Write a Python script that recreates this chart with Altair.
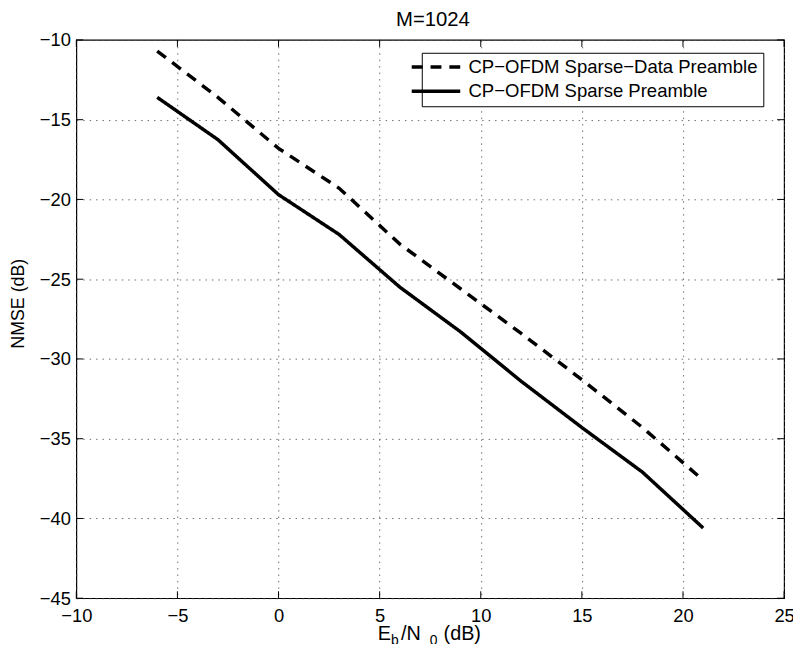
import altair as alt
import pandas as pd

# ---- data ----
ebn0 = [-6, -3, 0, 3, 6, 9, 12, 15, 18, 21]
nmse_sparse_data = [-10.7, -13.6, -16.8, -19.3, -22.8, -25.6, -28.4, -31.3, -34.3, -37.6]
nmse_sparse = [-13.6, -16.25, -19.7, -22.2, -25.5, -28.3, -31.4, -34.3, -37.1, -40.6]
series_names = ["CP\u2212OFDM Sparse\u2212Data Preamble", "CP\u2212OFDM Sparse Preamble"]
x_ticks = [-10, -5, 0, 5, 10, 15, 20, 25]
y_ticks = [-45, -40, -35, -30, -25, -20, -15, -10]
title_text = "M=1024"
ylabel_text = "NMSE (dB)"

rows = []
for name, vals in zip(series_names, [nmse_sparse_data, nmse_sparse]):
    for xv, yv in zip(ebn0, vals):
        rows.append({"ebn0": xv, "nmse": yv, "series": name})
df = pd.DataFrame(rows)

W, H = 715, 564
FONT = "Liberation Sans"
TICK_FS = 18.5

xscale = alt.Scale(domain=[-10, 25], nice=False, zero=False)
yscale = alt.Scale(domain=[-45, -10], nice=False, zero=False)

grid_style = dict(grid=True, gridColor="#555555", gridDash=[1.5, 5], gridWidth=1, gridOpacity=0.85)

xaxis = alt.Axis(values=x_ticks, title=None, domain=False, ticks=False, tickSize=0,
                 labelPadding=8.4, labelFontSize=TICK_FS, labelFont=FONT, labelColor="black",
                 labelFlush=False, labelOverlap=False, format="d", **grid_style)
yaxis = alt.Axis(values=y_ticks, title=None, domain=False, ticks=False, tickSize=0,
                 labelPadding=6, labelFontSize=TICK_FS, labelFont=FONT, labelColor="black",
                 labelFlush=False, labelOverlap=False, format="d", **grid_style)

legend = alt.Legend(
    orient="none", legendX=349, legendY=13, title=None,
    symbolType="M-4.9,0H4.9", symbolSize=100, symbolStrokeWidth=3.5,
    symbolStrokeColor="black", symbolFillColor="transparent",
    labelFontSize=18.7, labelFont=FONT, labelColor="black", labelOffset=23.5, labelLimit=0,
    padding=5, rowPadding=4.6, strokeColor="black", fillColor="white",
)

lines = alt.Chart(df).mark_line(color="black", strokeWidth=3.5, strokeCap="butt").encode(
    x=alt.X("ebn0:Q", scale=xscale, axis=xaxis),
    y=alt.Y("nmse:Q", scale=yscale, axis=yaxis),
    strokeDash=alt.StrokeDash("series:N",
                              scale=alt.Scale(domain=series_names, range=[[11, 8], [1, 0]]),
                              legend=legend),
)

xt = pd.DataFrame({"v": x_ticks})
yt = pd.DataFrame({"v": y_ticks})
TL = 7
tick_style = dict(color="black", strokeWidth=1)
tick_b = alt.Chart(xt).mark_rule(**tick_style).encode(
    x=alt.X("v:Q", scale=xscale, axis=xaxis), y=alt.value(H), y2=alt.value(H - TL))
tick_t = alt.Chart(xt).mark_rule(**tick_style).encode(
    x=alt.X("v:Q", scale=xscale, axis=xaxis), y=alt.value(0), y2=alt.value(TL))
tick_l = alt.Chart(yt).mark_rule(**tick_style).encode(
    y=alt.Y("v:Q", scale=yscale, axis=yaxis), x=alt.value(0), x2=alt.value(TL))
tick_r = alt.Chart(yt).mark_rule(**tick_style).encode(
    y=alt.Y("v:Q", scale=yscale, axis=yaxis), x=alt.value(W), x2=alt.value(W - TL))

one = pd.DataFrame({"k": [0]})


def txt(s, x, y, size, angle=0, align="left", baseline="alphabetic"):
    return alt.Chart(one).mark_text(
        text=s, fontSize=size, font=FONT, color="black", align=align,
        baseline=baseline, angle=angle,
    ).encode(x=alt.value(x), y=alt.value(y))


XL_BASE = 606
SUB_BASE = 611.5
title = txt(title_text, 360.3, -13.8, 20.5, align="center")
ylabel = txt(ylabel_text, -58, 266.5, 18, angle=270, align="center", baseline="middle")
xl_E = txt("E", 304.5, XL_BASE, 20)
xl_b = txt("b", 318, SUB_BASE, 14)
xl_N = txt("/N", 328, XL_BASE, 20)
xl_0 = txt("0", 357, SUB_BASE, 14)
xl_dB = txt("(dB)", 371, XL_BASE, 20)

chart = alt.layer(
    lines, tick_b, tick_t, tick_l, tick_r,
    title, ylabel, xl_E, xl_b, xl_N, xl_0, xl_dB,
).properties(
    width=W, height=H,
    autosize=alt.AutoSizeParams(type="none"),
    padding={"left": 69, "top": 29, "right": 9, "bottom": 43},
    background="white",
).configure_view(stroke="black", strokeWidth=1.2)

chart.save("out.html", embed_options={"renderer": "svg", "actions": False})
